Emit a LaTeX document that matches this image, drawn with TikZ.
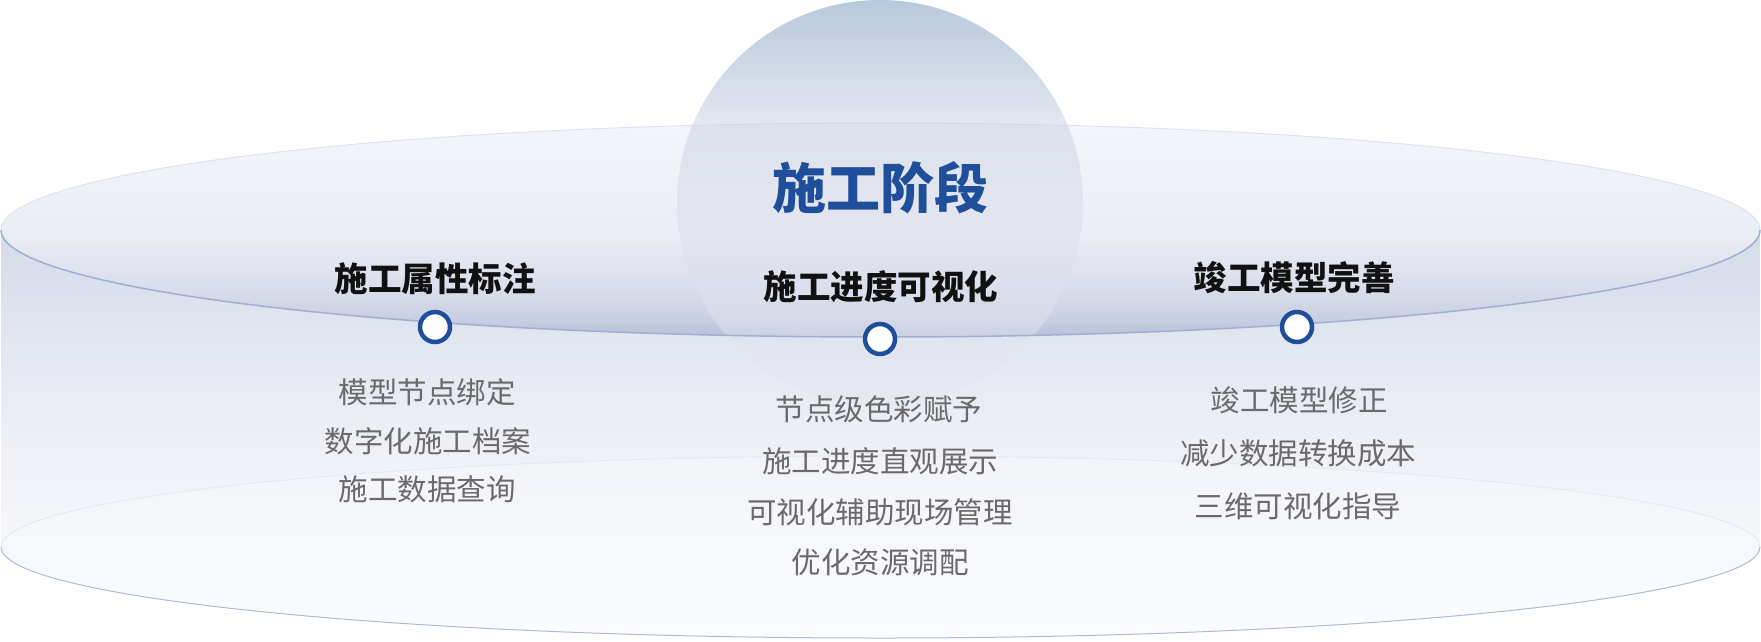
\documentclass[tikz,border=0pt]{standalone}
\usepackage{fontspec}
\setmainfont{Noto Sans CJK SC}
\definecolor{titleblue}{HTML}{1F4E9A}
\definecolor{itemgray}{HTML}{6A6A6A}
\definecolor{headblack}{HTML}{111111}
\definecolor{bA}{HTML}{FAFBFE}
\definecolor{bB}{HTML}{F6F7FB}
\definecolor{bC}{HTML}{EEF0F6}
\definecolor{bD}{HTML}{E3E7F0}
\definecolor{bE}{HTML}{D3DBE8}
\definecolor{tA}{HTML}{B5BFD9}
\definecolor{tB}{HTML}{C8CFE2}
\definecolor{tC}{HTML}{D9DDEA}
\definecolor{tD}{HTML}{ECEEF5}
\definecolor{tE}{HTML}{F4F5FA}
\definecolor{cA}{HTML}{E6E9F2}
\definecolor{cB}{HTML}{D8DCE9}
\definecolor{cC}{HTML}{C7CFE1}
\definecolor{cD}{HTML}{6F94BA}
\definecolor{fA}{HTML}{F3F4F9}
\definecolor{fB}{HTML}{FBFCFE}
\definecolor{edgeDark}{HTML}{9DB0D3}
\definecolor{edgeLight}{HTML}{DDE2EE}
\definecolor{floorDark}{HTML}{AEBBD8}
\definecolor{floorLight}{HTML}{E4E8F2}
\pgfdeclareverticalshading{bodyshade}{100bp}{color(0bp)=(bA); color(25bp)=(bA); color(36.2bp)=(bB); color(49.3bp)=(bC); color(60.3bp)=(bD); color(75bp)=(bE); color(100bp)=(bE)}
\pgfdeclareverticalshading{topshade}{100bp}{color(0bp)=(tA); color(25bp)=(tA); color(29bp)=(tB); color(36bp)=(tC); color(50bp)=(tD); color(75bp)=(tE); color(100bp)=(tE)}
\pgfdeclareverticalshading{circshade}{100bp}{color(0bp)=(cA); color(25bp)=(cA); color(50.3bp)=(cB); color(59.8bp)=(cC); color(75bp)=(cD); color(100bp)=(cD)}
\pgfdeclareverticalshading{floorshade}{100bp}{color(0bp)=(fB); color(25bp)=(fB); color(75bp)=(fA); color(100bp)=(fA)}
\tikzset{
  titletext/.style={inner sep=0pt, text=titleblue, font=\fontsize{54}{60}\selectfont\bfseries},
  headtext/.style={inner sep=0pt, text=headblack, font=\fontsize{33.5}{38}\selectfont\bfseries},
  itemtext/.style={inner sep=0pt, text=itemgray, font=\fontsize{29.5}{34}\selectfont},
  dotmark/.style={circle, draw=titleblue, line width=4.5pt, fill=white, minimum size=30pt, inner sep=0pt},
}
\begin{document}
\begin{tikzpicture}[x=1pt,y=-1pt]
\useasboundingbox (0,0) rectangle (1761,641);
% cylinder body
\shade[shading=bodyshade] (1,230) -- (1,547) arc[start angle=180, end angle=360, x radius=879.5pt, y radius=91pt] -- (1760,230) -- cycle;
% floor ellipse
\shade[shading=floorshade] (880.5,547) ellipse [x radius=879.5pt, y radius=91pt];
\draw[floorLight, line width=0.8pt] (1,547) arc[start angle=180, end angle=0, x radius=879.5pt, y radius=91pt];
\draw[floorDark, line width=1pt] (1,547) arc[start angle=180, end angle=360, x radius=879.5pt, y radius=91pt];
% top ellipse
\shade[shading=topshade] (880.5,230) ellipse [x radius=879.5pt, y radius=107pt];
\draw[edgeLight, line width=1pt] (1,230) arc[start angle=180, end angle=0, x radius=879.5pt, y radius=107pt];
% circle
\shade[shading=circshade, opacity=0.5] (880,203) circle [radius=203pt];
% top ellipse front edge
\draw[edgeDark, line width=1.5pt] (1,230) arc[start angle=180, end angle=360, x radius=879.5pt, y radius=107pt];
% title
\node[titletext] (title) at (880,188) {施工阶段};
% headings
\node[headtext] (h1) at (435,279) {施工属性标注};
\node[headtext] (h2) at (881,287) {施工进度可视化};
\node[headtext] (h3) at (1294,278) {竣工模型完善};
% dots
\node[dotmark] (d1) at (435,327) {};
\node[dotmark] (d2) at (880,339) {};
\node[dotmark] (d3) at (1297,327) {};
% items left
\node[itemtext] (l1) at (427,392) {模型节点绑定};
\node[itemtext] (l2) at (428,441) {数字化施工档案};
\node[itemtext] (l3) at (427,489) {施工数据查询};
% items middle
\node[itemtext] (m1) at (879,409) {节点级色彩赋予};
\node[itemtext] (m2) at (880,461) {施工进度直观展示};
\node[itemtext] (m3) at (880,512) {可视化辅助现场管理};
\node[itemtext] (m4) at (880,562) {优化资源调配};
% items right
\node[itemtext] (r1) at (1299,400) {竣工模型修正};
\node[itemtext] (r2) at (1298,453) {减少数据转换成本};
\node[itemtext] (r3) at (1298,506) {三维可视化指导};
\end{tikzpicture}
\end{document}
